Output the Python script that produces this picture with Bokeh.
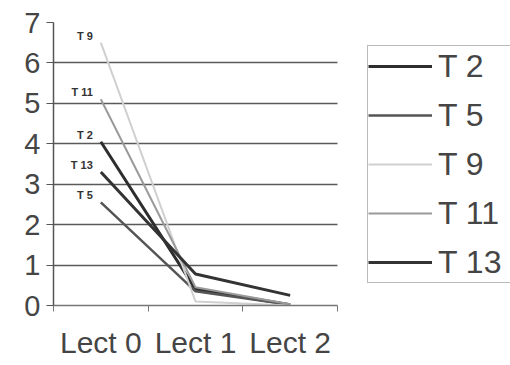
from bokeh.plotting import figure
from bokeh.models import FixedTicker, Legend, LegendItem, Range1d, ColumnDataSource
from bokeh.core.properties import value
from bokeh.embed import file_html
from bokeh.resources import INLINE

categories = ["Lect 0", "Lect 1", "Lect 2"]
series_names = ["T 2", "T 5", "T 9", "T 11", "T 13"]
t2 = [4.05, 0.40, 0.02]
t5 = [2.55, 0.35, 0.02]
t9 = [6.50, 0.10, 0.00]
t11 = [5.10, 0.45, 0.03]
t13 = [3.30, 0.78, 0.25]
series_values = [t2, t5, t9, t11, t13]
colors = ["#2e2e2e", "#555555", "#d0d0d0", "#9a9a9a", "#333333"]
widths = [3, 2.5, 2, 2, 3]

FONT = "Liberation Sans"
TXT = "#454545"

W, H = 510, 365
LEFT, TOP, BOTTOM = 53, 22, 60
PLOT_W = 284  # width of the category area in pixels
FRAME_W = W - LEFT
n = len(categories)
xs = [i + 0.5 for i in range(n)]

p = figure(width=W, height=H, output_backend="svg", toolbar_location=None,
           x_range=Range1d(0, n * FRAME_W / PLOT_W), y_range=Range1d(0, 7),
           min_border_left=LEFT, min_border_right=0, min_border_top=TOP,
           min_border_bottom=BOTTOM)
p.outline_line_color = None
p.background_fill_color = "white"
p.border_fill_color = "white"

# y axis
p.yaxis.ticker = FixedTicker(ticks=list(range(0, 8)))
p.yaxis.axis_line_color = "#555555"
p.yaxis.axis_line_width = 1.5
p.yaxis.major_tick_out = 7
p.yaxis.major_tick_in = 0
p.yaxis.major_tick_line_color = "#555555"
p.yaxis.minor_tick_line_color = None
p.yaxis.major_label_text_font = FONT
p.yaxis.major_label_text_font_size = "29px"
p.yaxis.major_label_text_color = TXT
p.yaxis.major_label_standoff = 6

# x axis
p.xaxis.bounds = (0, n)
p.xaxis.ticker = FixedTicker(ticks=xs, minor_ticks=list(range(n + 1)))
p.xaxis.major_label_overrides = {x: c for x, c in zip(xs, categories)}
p.xaxis.major_tick_line_color = None
p.xaxis.minor_tick_out = 6
p.xaxis.minor_tick_in = 0
p.xaxis.minor_tick_line_color = "#777777"
p.xaxis.axis_line_color = "#777777"
p.xaxis.axis_line_width = 1.5
p.xaxis.major_label_text_font = FONT
p.xaxis.major_label_text_font_size = "30px"
p.xaxis.major_label_text_color = TXT
p.xaxis.major_label_standoff = 14

p.xgrid.grid_line_color = None
p.ygrid.ticker = FixedTicker(ticks=[1, 2, 3, 4, 5, 6])
p.ygrid.cross_bounds = (0, n)
p.ygrid.grid_line_color = "#5a5a5a"
p.ygrid.grid_line_width = 1.5

items = []
for name, vals, c, w in zip(series_names, series_values, colors, widths):
    r = p.line(xs, vals, line_color=c, line_width=w)
    items.append(LegendItem(label=name, renderers=[r]))

# data labels at first point
src = ColumnDataSource(dict(x=[xs[0]] * len(series_names),
                            y=[v[0] for v in series_values],
                            t=series_names))
p.text(x="x", y="y", text="t", source=src, text_font=value(FONT),
       text_font_size="11px", text_font_style="bold", text_color="#333333",
       text_align="right", text_baseline="middle", x_offset=-8, y_offset=-7)

legend = Legend(items=items, location=(314, 22))
legend.border_line_color = "#777777"
legend.border_line_width = 1.5
legend.label_text_font = FONT
legend.label_text_font_size = "32px"
legend.label_text_color = TXT
legend.glyph_width = 64
legend.glyph_height = 40
legend.label_height = 40
legend.spacing = 9
legend.padding = 0
legend.margin = 0
legend.label_standoff = 6
legend.label_width = 120
legend.background_fill_alpha = 1
p.add_layout(legend, "center")

open("out.html", "w").write(file_html(p, INLINE))
